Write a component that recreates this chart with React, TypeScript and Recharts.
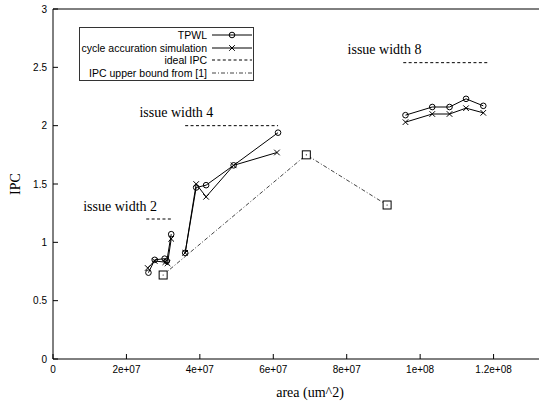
import { Scatter, ScatterChart, XAxis, YAxis } from "recharts";

// area (um^2) vs IPC
const tpwlW2 = [
  { area: 2.6e7, ipc: 0.74 },
  { area: 2.77e7, ipc: 0.85 },
  { area: 3.04e7, ipc: 0.86 },
  { area: 3.1e7, ipc: 0.84 },
  { area: 3.22e7, ipc: 1.07 },
];
const cycleW2 = [
  { area: 2.58e7, ipc: 0.78 },
  { area: 2.77e7, ipc: 0.84 },
  { area: 3.06e7, ipc: 0.83 },
  { area: 3.12e7, ipc: 0.82 },
  { area: 3.22e7, ipc: 1.03 },
];
const tpwlW4 = [
  { area: 3.6e7, ipc: 0.91 },
  { area: 3.9e7, ipc: 1.47 },
  { area: 4.17e7, ipc: 1.49 },
  { area: 4.92e7, ipc: 1.66 },
  { area: 6.13e7, ipc: 1.94 },
];
const cycleW4 = [
  { area: 3.6e7, ipc: 0.91 },
  { area: 3.9e7, ipc: 1.5 },
  { area: 4.17e7, ipc: 1.39 },
  { area: 4.92e7, ipc: 1.66 },
  { area: 6.1e7, ipc: 1.77 },
];
const tpwlW8 = [
  { area: 9.6e7, ipc: 2.09 },
  { area: 1.033e8, ipc: 2.16 },
  { area: 1.08e8, ipc: 2.16 },
  { area: 1.125e8, ipc: 2.23 },
  { area: 1.172e8, ipc: 2.17 },
];
const cycleW8 = [
  { area: 9.6e7, ipc: 2.03 },
  { area: 1.033e8, ipc: 2.1 },
  { area: 1.08e8, ipc: 2.1 },
  { area: 1.125e8, ipc: 2.15 },
  { area: 1.172e8, ipc: 2.11 },
];
const idealW2 = [
  { area: 2.54e7, ipc: 1.2 },
  { area: 3.22e7, ipc: 1.2 },
];
const idealW4 = [
  { area: 3.6e7, ipc: 2.0 },
  { area: 6.13e7, ipc: 2.0 },
];
const idealW8 = [
  { area: 9.54e7, ipc: 2.54 },
  { area: 1.183e8, ipc: 2.54 },
];
const upperBound = [
  { area: 3.0e7, ipc: 0.72 },
  { area: 6.9e7, ipc: 1.75 },
  { area: 9.1e7, ipc: 1.32 },
];
const issueLabels = [
  { area: 1.83e7, ipc: 1.31, text: "issue width 2" },
  { area: 3.36e7, ipc: 2.11, text: "issue width 4" },
  { area: 9.03e7, ipc: 2.65, text: "issue width 8" },
];
const xTicks = [0, 2e7, 4e7, 6e7, 8e7, 1e8, 1.2e8];
const yTicks = [0, 0.5, 1, 1.5, 2, 2.5, 3];

const SANS = "'Liberation Sans', Arial, sans-serif";
const SERIF = "'Liberation Serif', 'Times New Roman', serif";

const fmtX = (v: number) => (v === 0 ? "0" : v.toExponential().replace(/e\+(\d)$/, "e+0$1"));

const Circle = (p: any) => <circle cx={p.cx} cy={p.cy} r={2.8} fill="none" stroke="#000" strokeWidth={1} />;
const Cross = (p: any) => (
  <path
    d={`M${p.cx - 2.8},${p.cy - 2.8}L${p.cx + 2.8},${p.cy + 2.8}M${p.cx - 2.8},${p.cy + 2.8}L${p.cx + 2.8},${p.cy - 2.8}`}
    stroke="#000"
    strokeWidth={1}
  />
);
const Square = (p: any) => (
  <g>
    <rect x={p.cx - 4} y={p.cy - 4} width={8} height={8} fill="#fff" stroke="#000" strokeWidth={1} />
    <circle cx={p.cx} cy={p.cy} r={0.6} fill="#000" />
  </g>
);
const NoMark = () => <g />;
const LabelText = (p: any) => (
  <text x={p.cx} y={p.cy} textAnchor="middle" dominantBaseline="central" fontFamily={SERIF} fontSize={14} fill="#000">
    {p.payload.text}
  </text>
);

const solid = { stroke: "#000", strokeWidth: 1 };
const dashed = { stroke: "#000", strokeWidth: 1, strokeDasharray: "3 2.4" };
const dashDot = { stroke: "#444", strokeWidth: 1, strokeDasharray: "4 2 1 2" };

function LegendBox() {
  const rows: [string, JSX.Element][] = [
    [
      "TPWL",
      <>
        <line x1={0} y1={6} x2={40} y2={6} {...solid} />
        <Circle cx={20} cy={6} />
      </>,
    ],
    [
      "cycle accuration simulation",
      <>
        <line x1={0} y1={6} x2={40} y2={6} {...solid} />
        <Cross cx={20} cy={6} />
      </>,
    ],
    ["ideal IPC", <line x1={0} y1={6} x2={40} y2={6} {...dashed} />],
    ["IPC upper bound from [1]", <line x1={0} y1={6} x2={40} y2={6} {...dashDot} />],
  ];
  return (
    <div
      style={{
        position: "absolute",
        left: 79,
        top: 27,
        width: 173,
        padding: "1px 0",
        border: "1px solid #333",
        background: "#fff",
        fontFamily: SANS,
        fontSize: 10.5,
        color: "#000",
      }}
    >
      {rows.map(([label, sample]) => (
        <div key={label} style={{ display: "flex", alignItems: "center", justifyContent: "flex-end", height: 12.5 }}>
          <span style={{ whiteSpace: "nowrap" }}>{label}</span>
          <svg width={40} height={12} style={{ marginLeft: 5, marginRight: 1, display: "block" }}>
            {sample}
          </svg>
        </div>
      ))}
    </div>
  );
}

export default function App() {
  const tick = { fontFamily: SANS, fontSize: 10, fill: "#000" };
  return (
    <div style={{ position: "absolute", left: 0, top: 0, width: 539, height: 402, overflow: "hidden", background: "#fff" }}>
      <ScatterChart width={580} height={402} margin={{ top: 1, right: 13, left: 0, bottom: 0 }}>
        <XAxis
          type="number"
          dataKey="area"
          domain={[0, 1.4e8]}
          ticks={xTicks}
          interval={0}
          tickFormatter={fmtX}
          tick={tick}
          tickSize={-5}
          tickMargin={12}
          height={43}
          stroke="#000"
          label={{ value: "area (um^2)", position: "insideBottom", offset: 5, fontFamily: SERIF, fontSize: 14, fill: "#000" }}
        />
        <XAxis
          xAxisId="top"
          orientation="top"
          type="number"
          dataKey="area"
          domain={[0, 1.4e8]}
          ticks={xTicks}
          interval={0}
          tickFormatter={() => ""}
          tickSize={-5}
          height={8}
          stroke="#000"
        />
        <YAxis
          type="number"
          dataKey="ipc"
          domain={[0, 3]}
          ticks={yTicks}
          interval={0}
          tick={tick}
          tickSize={-5}
          tickMargin={11}
          width={53}
          stroke="#000"
          label={{
            content: ({ viewBox }: any) => (
              <text
                x={viewBox.x + 15}
                y={viewBox.y + viewBox.height / 2}
                transform={`rotate(-90 ${viewBox.x + 15} ${viewBox.y + viewBox.height / 2})`}
                textAnchor="middle"
                dominantBaseline="central"
                fontFamily={SERIF}
                fontSize={14}
                fill="#000"
              >
                IPC
              </text>
            ),
          }}
        />
        <Scatter data={idealW2} line={dashed} shape={NoMark} isAnimationActive={false} />
        <Scatter data={idealW4} line={dashed} shape={NoMark} isAnimationActive={false} />
        <Scatter data={idealW8} line={dashed} shape={NoMark} isAnimationActive={false} />
        <Scatter data={upperBound} line={dashDot} shape={Square} isAnimationActive={false} />
        <Scatter data={cycleW2} line={solid} shape={Cross} isAnimationActive={false} />
        <Scatter data={cycleW4} line={solid} shape={Cross} isAnimationActive={false} />
        <Scatter data={cycleW8} line={solid} shape={Cross} isAnimationActive={false} />
        <Scatter data={tpwlW2} line={solid} shape={Circle} isAnimationActive={false} />
        <Scatter data={tpwlW4} line={solid} shape={Circle} isAnimationActive={false} />
        <Scatter data={tpwlW8} line={solid} shape={Circle} isAnimationActive={false} />
        <Scatter data={issueLabels} shape={LabelText} isAnimationActive={false} />
      </ScatterChart>
      <LegendBox />
    </div>
  );
}
